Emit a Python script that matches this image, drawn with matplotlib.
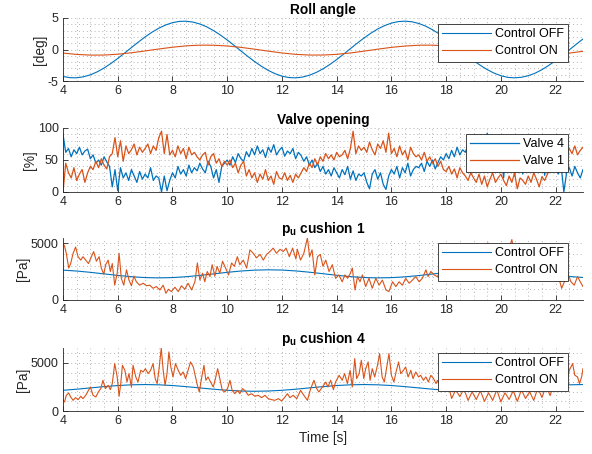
import numpy as np
import matplotlib.pyplot as plt

plt.rcParams['font.family'] = ['Liberation Sans', 'DejaVu Sans']
plt.rcParams['mathtext.fontset'] = 'custom'
plt.rcParams['mathtext.rm'] = 'Liberation Sans'
plt.rcParams['mathtext.bf'] = 'Liberation Sans:bold'
plt.rcParams['axes.unicode_minus'] = False

BLUE = '#0072BD'
ORANGE = '#D95319'
DARK = '#262626'

# --- Roll angle [deg] (0.25 s / 0.5 s samples from 4 s to 23 s) ---
roll_off = [-4.28, -4.47, -4.49, -4.33, -4.02, -3.55, -2.94, -2.22, -1.42, -0.57,
            0.31, 1.17, 1.99, 2.74, 3.38, 3.89, 4.26, 4.46, 4.49, 4.35,
            4.05, 3.60, 3.00, 2.30, 1.51, 0.66, -0.22, -1.09, -1.92, -2.66,
            -3.32, -3.84, -4.23, -4.45, -4.50, -4.38, -4.09, -3.65, -3.07, -2.38,
            -1.59, -0.75, 0.13, 1.00, 1.83, 2.59, 3.26, 3.79, 4.19, 4.43,
            4.50, 4.40, 4.13, 3.71, 3.14, 2.46, 1.68, 0.84, -0.04, -0.91,
            -1.75, -2.52, -3.19, -3.75, -4.16, -4.42, -4.50, -4.41, -4.16, -3.76,
            -3.20, -2.52, -1.76, -0.93, -0.05, 0.82, 1.67]
roll_on = [-0.57, -0.78, -0.89, -0.88, -0.75, -0.52, -0.23, 0.08, 0.36, 0.58,
           0.69, 0.68, 0.56, 0.34, 0.05, -0.26, -0.55, -0.77, -0.88, -0.88,
           -0.77, -0.55, -0.26, 0.05, 0.34, 0.55, 0.68, 0.69, 0.57, 0.36,
           0.08, -0.23, -0.52, -0.75, -0.88, -0.89, -0.78, -0.57, -0.29]

# --- Valve opening [%] (0.1 s samples from 4 s to 23 s) ---
valve4 = [90, 62, 68, 55, 66, 60, 70, 58, 64, 67,
          52, 58, 45, 50, 42, 55, 47, 40, 8, 35,
          2, 38, 22, 30, 18, 35, 25, 15, 32, 20,
          28, 22, 38, 18, 25, 22, 0, 25, 2, 18,
          30, 22, 40, 28, 35, 25, 42, 30, 38, 33,
          45, 36, 30, 48, 40, 22, 35, 15, 40, 45,
          50, 42, 55, 46, 60, 52, 48, 63, 55, 68,
          58, 72, 60, 66, 54, 70, 62, 74, 58, 65,
          70, 56, 64, 60, 68, 52, 62, 57, 48, 55,
          42, 50, 38, 45, 32, 40, 28, 35, 25, 38,
          30, 22, 35, 27, 40, 20, 33, 18, 28, 25,
          30, 15, 5, 28, 35, 20, 30, 12, 4, 25,
          35, 28, 40, 22, 38, 30, 45, 25, 35, 40,
          38, 45, 32, 48, 40, 50, 36, 46, 55, 50,
          60, 52, 65, 55, 70, 58, 66, 62, 74, 60,
          68, 75, 62, 80, 70, 92, 66, 72, 60, 78,
          65, 22, 70, 58, 75, 25, 62, 68, 28, 72,
          60, 70, 30, 66, 58, 72, 26, 62, 55, 40,
          35, 28, 42, 0, 30, 38, 25, 40, 30, 22,
          35]
valve1 = [0, 45, 30, 22, 38, 18, 28, 35, 15, 30,
          40, 35, 48, 38, 52, 42, 36, 55, 60, 85,
          55, 80, 48, 72, 60, 66, 75, 58, 70, 62,
          68, 75, 60, 72, 65, 85, 95, 60, 90, 58,
          65, 55, 72, 60, 68, 52, 70, 58, 62, 55,
          50, 58, 62, 42, 55, 60, 45, 52, 40, 48,
          42, 50, 38, 45, 30, 42, 48, 25, 35, 22,
          30, 15, 28, 20, 35, 18, 25, 12, 32, 22,
          20, 30, 18, 26, 15, 28, 22, 30, 38, 32,
          45, 38, 52, 42, 55, 48, 60, 52, 58, 50,
          62, 55, 58, 65, 52, 68, 95, 60, 72, 65,
          70, 62, 78, 66, 58, 75, 68, 80, 62, 92,
          60, 68, 55, 72, 58, 65, 50, 70, 60, 55,
          58, 50, 62, 48, 55, 45, 52, 40, 48, 35,
          32, 40, 28, 36, 22, 38, 30, 25, 18, 30,
          22, 15, 28, 12, 25, 8, 20, 30, 15, 22,
          28, 18, 10, 25, 15, 30, 5, 22, 18, 12,
          25, 15, 30, 20, 8, 24, 18, 28, 35, 45,
          50, 58, 45, 62, 55, 68, 60, 72, 58, 65,
          70]

# --- p_u cushion 1 [Pa] ---
p1_off = [2620, 2542, 2427, 2291, 2157, 2043, 1967, 1940, 1967, 2043,
          2157, 2291, 2427, 2542, 2620, 2650, 2626, 2552, 2440, 2306,
          2170, 2053, 1972, 1940, 1962, 2033, 2144, 2278, 2414, 2532,
          2615, 2649, 2631, 2562, 2452, 2319, 2183, 2063, 1978]
p1_on_t = [4.00, 4.06, 4.12, 4.21, 4.28, 4.37, 4.46, 4.55, 4.65, 4.73, 4.83, 4.93,
           5.04, 5.12, 5.22, 5.32, 5.40, 5.49, 5.56, 5.65, 5.73, 5.80, 5.89, 5.98,
           6.05, 6.13, 6.22, 6.32, 6.41, 6.50, 6.59, 6.68, 6.80, 6.93, 7.05, 7.17,
           7.29, 7.41, 7.54, 7.66, 7.76, 7.85, 7.96, 8.09, 8.21, 8.33, 8.45, 8.57,
           8.70, 8.82, 8.91, 9.00, 9.10, 9.18, 9.27, 9.37, 9.45, 9.55, 9.63, 9.73,
           9.83, 9.94, 10.05, 10.16, 10.26, 10.37, 10.46, 10.59, 10.71, 10.83, 10.95,
           11.07, 11.20, 11.32, 11.44, 11.56, 11.68, 11.80, 11.93, 12.05, 12.15,
           12.27, 12.39, 12.51, 12.56, 12.68, 12.80, 12.93, 13.01, 13.10, 13.20,
           13.30, 13.40, 13.50, 13.60, 13.72, 13.84, 13.96, 14.08, 14.20, 14.30,
           14.40, 14.50, 14.57, 14.67, 14.76, 14.85, 14.94, 15.06, 15.18, 15.30,
           15.43, 15.55, 15.67, 15.80, 15.91, 16.04, 16.16, 16.28, 16.40, 16.52,
           16.65, 16.77, 16.89, 17.01, 17.13, 17.26, 17.34, 17.44, 17.56, 17.68,
           17.80, 17.95, 18.10, 18.25, 18.40, 18.55, 18.70, 18.85, 19.00, 19.15,
           19.30, 19.45, 19.53, 19.65, 19.80, 19.95, 20.10, 20.25, 20.40, 20.50,
           20.65, 20.80, 20.95, 21.10, 21.25, 21.40, 21.55, 21.70, 21.85, 22.00,
           22.12, 22.22, 22.32, 22.45, 22.56, 22.68, 22.80, 22.90, 23.00]
p1_on = [5000, 4700, 4100, 2800, 3200, 4100, 4650, 3800, 3500, 3800, 3500, 3200,
         3800, 4250, 3400, 3800, 2800, 2260, 3100, 3500, 2500, 3200, 1300, 2350,
         4100, 1900, 1300, 2650, 1750, 1250, 2100, 1600, 1300, 1470, 1250, 1300,
         1030, 1180, 880, 1300, 590, 940, 740, 1120, 740, 1250, 940, 1470,
         880, 1600, 3250, 1750, 2350, 1600, 2500, 2050, 3100, 2100, 2950, 2350,
         3400, 2800, 2200, 3250, 2950, 3800, 3100, 3500, 2800, 4400, 4100,
         3700, 4000, 3500, 4000, 4250, 4550, 4100, 4450, 4250, 4550,
         3800, 4550, 3600, 4450, 3500, 4100, 5440, 3800, 4400, 2200,
         3800, 4000, 2950, 3500, 2500, 3100, 1900, 2200, 1600, 2200,
         1900, 2350, 2800, 880, 2050, 1600, 2200, 1180, 1900, 1030,
         1900, 1300, 1750, 880, 740, 1600, 1180, 1600, 1300, 1900,
         1470, 1750, 2050, 1600, 1900, 2650, 2050, 2500, 2200, 2050,
         2600, 2200, 2900, 2400, 3100, 2600, 3400, 2800, 3600, 3000,
         3800, 4900, 5000, 3700, 3200, 4000, 3400, 4200, 5300, 3900,
         3500, 4100, 3300, 3700, 3000, 3400, 2700, 3100, 2400, 2800,
         1900, 1030, 1600, 2300, 1600, 1300, 2050, 1600, 1180]

# --- p_u cushion 4 [Pa] ---
p4_off = [2153, 2266, 2400, 2534, 2647, 2723, 2750, 2723, 2647, 2534,
          2400, 2266, 2153, 2077, 2050, 2077, 2153, 2266, 2400, 2534,
          2647, 2723, 2750, 2723, 2647, 2534, 2400, 2266, 2153, 2077,
          2050, 2077, 2153, 2266, 2400, 2534, 2647, 2723, 2750]
p4_on_t = [4.00, 4.06, 4.12, 4.21, 4.28, 4.37, 4.46, 4.55, 4.65, 4.73, 4.83, 4.93,
           5.00, 5.10, 5.20, 5.29, 5.38, 5.46, 5.55, 5.65, 5.73, 5.80, 5.89, 5.98,
           6.05, 6.11, 6.17, 6.26, 6.34, 6.41, 6.50, 6.56, 6.66, 6.74, 6.84, 6.93,
           7.01, 7.11, 7.20, 7.29, 7.37, 7.44, 7.51, 7.59, 7.66, 7.73, 7.80, 7.87,
           7.94, 8.02, 8.11, 8.21, 8.30, 8.39, 8.48, 8.57, 8.66, 8.76, 8.84, 8.91,
           8.98, 9.06, 9.15, 9.22, 9.30, 9.39, 9.49, 9.57, 9.65, 9.73, 9.82, 9.91,
           10.01, 10.10, 10.18, 10.28, 10.38, 10.46, 10.56, 10.66, 10.77, 10.89,
           11.01, 11.13, 11.26, 11.38, 11.50, 11.62, 11.74, 11.87, 11.99, 12.11,
           12.20, 12.29, 12.41, 12.54, 12.68, 12.80, 12.93, 13.05, 13.17, 13.27,
           13.35, 13.48, 13.60, 13.68, 13.78, 13.88, 13.96, 14.09, 14.20, 14.29,
           14.39, 14.49, 14.57, 14.66, 14.73, 14.82, 14.90, 14.99, 15.06, 15.15,
           15.22, 15.30, 15.39, 15.49, 15.57, 15.66, 15.74, 15.83, 15.91, 16.00,
           16.09, 16.17, 16.26, 16.34, 16.44, 16.52, 16.61, 16.71, 16.79, 16.89,
           16.99, 17.07, 17.17, 17.26, 17.35, 17.44, 17.54, 17.63, 17.68, 17.80,
           17.95, 18.10, 18.20, 18.35, 18.50, 18.65, 18.80, 18.95, 19.10, 19.25,
           19.40, 19.55, 19.70, 19.85, 20.00, 20.15, 20.30, 20.45, 20.60, 20.75,
           20.90, 21.05, 21.20, 21.35, 21.50, 21.65, 21.80, 21.95, 22.10, 22.25,
           22.40, 22.50, 22.62, 22.70, 22.80, 22.87, 22.95, 23.00]
p4_on = [1110, 940, 1630, 1870, 1460, 1110, 1390, 1180, 1530, 1280, 1630, 2150,
         2500, 1630, 1460, 1980, 2330, 3190, 2330, 2670, 2220, 2850, 4930, 3540,
         1530, 2850, 4750, 4230, 3020, 3890, 2500, 4750, 3540, 3020, 4230, 4060,
         4400, 3890, 4230, 4930, 3370, 2850, 4400, 6550, 4230, 2670, 3890, 6140,
         4580, 3540, 4930, 4230, 3710, 4060, 3370, 4230, 5100, 4580, 3540, 2670,
         1980, 3370, 4750, 3190, 3540, 3020, 2500, 3370, 4400, 3370, 2150, 1980,
         2330, 3190, 2150, 1800, 2150, 1800, 2330, 2080, 1630, 1800,
         1530, 1630, 1390, 1630, 1280, 1180, 1110, 1280, 1040, 1460,
         1800, 1390, 1630, 1280, 2150, 1630, 1110, 2330, 3190, 2330,
         1980, 2500, 3020, 2500, 3190, 2220, 3020, 3710, 3190, 3890,
         2850, 4230, 2500, 5450, 3370, 3890, 5270, 3370, 4400, 5100,
         3190, 4400, 3540, 4750, 5970, 3540, 3020, 4580, 5970, 3710,
         3020, 4060, 5100, 3890, 4230, 4580, 3540, 4230, 3370, 4060,
         3540, 3710, 3190, 3540, 3020, 3710, 3370, 2850, 3190, 2600,
         2100, 2500, 1300, 2200, 1500, 2300, 1100, 2000, 1200, 2100,
         1000, 1900, 1100, 2200, 950, 1900, 1200, 2100, 1000, 2200,
         1300, 2000, 1100, 2400, 1400, 2600, 1600, 3000, 2400, 3500,
         3000, 4240, 4930, 3720, 3540, 2850, 3540, 4410]

t_roll_off = np.linspace(4, 23, len(roll_off))
t_slow = np.linspace(4, 23, len(roll_on))
t_valve = np.linspace(4, 23, len(valve4))

fig = plt.figure(figsize=(5.92, 4.54), dpi=100)
L, W = 63 / 592, 520 / 592
boxes = [(18, 81), (128, 192), (238, 300), (348, 411)]
axes = [fig.add_axes([L, 1 - b / 454, W, (b - t) / 454]) for t, b in boxes]


def style(ax, ylim, yticks, ystep, ylabel, label_x, title, legend_y, labels):
    ax.set_xlim(4, 23)
    ax.set_ylim(*ylim)
    ax.set_xticks(range(4, 23, 2))
    ax.set_xticks(np.arange(4, 23.01, 0.5), minor=True)
    ax.set_yticks(yticks)
    ax.set_yticks(np.arange(ylim[0], ylim[1] + 1e-6, ystep), minor=True)
    ax.grid(True, which='both', linestyle=(0, (1, 3)), linewidth=0.7, color='#b4b4b4')
    ax.set_axisbelow(True)
    ax.tick_params(which='major', direction='in', length=3.5, width=0.6,
                   colors=DARK, labelsize=9, pad=3)
    ax.tick_params(which='minor', length=0)
    for s in ['top', 'right']:
        ax.spines[s].set_visible(False)
    for s in ['left', 'bottom']:
        ax.spines[s].set_color(DARK)
        ax.spines[s].set_linewidth(0.6)
    ax.set_ylabel(ylabel, fontsize=9.9, color=DARK)
    ax.yaxis.set_label_coords(label_x, 0.5)
    ax.set_title(title, fontsize=9.9, fontweight='bold', pad=3)
    leg = ax.legend(labels, loc='upper right', bbox_to_anchor=(0.971, legend_y),
                    fontsize=9, handlelength=3.85, handletextpad=0.32,
                    labelspacing=0.4, borderpad=0.35, borderaxespad=0,
                    fancybox=False, framealpha=1, edgecolor=DARK)
    leg.get_frame().set_linewidth(0.6)


ax1, ax2, ax3, ax4 = axes
ax1.plot(t_roll_off, roll_off, color=BLUE, lw=0.8)
ax1.plot(t_slow, roll_on, color=ORANGE, lw=0.8)
style(ax1, (-5, 5), [-5, 0, 5], 1, '[deg]', -0.031, 'Roll angle', 0.905,
      ['Control OFF', 'Control ON'])

ax2.plot(t_valve, valve4, color=BLUE, lw=0.9)
ax2.plot(t_valve, valve1, color=ORANGE, lw=0.9)
style(ax2, (0, 100), [0, 50, 100], 10, '[%]', -0.05, 'Valve opening', 0.906,
      ['Valve 4', 'Valve 1'])

ax3.plot(t_slow, p1_off, color=BLUE, lw=0.8)
ax3.plot(p1_on_t, p1_on, color=ORANGE, lw=0.8)
style(ax3, (0, max(p1_on)), [0, 5000], 1000, '[Pa]', -0.063,
      r'$\mathbf{p_u}$ cushion 1', 0.919, ['Control OFF', 'Control ON'])

ax4.plot(t_slow, p4_off, color=BLUE, lw=0.8)
ax4.plot(p4_on_t, p4_on, color=ORANGE, lw=0.8)
style(ax4, (0, max(p4_on)), [0, 5000], 1000, '[Pa]', -0.063,
      r'$\mathbf{p_u}$ cushion 4', 0.92, ['Control OFF', 'Control ON'])
ax4.set_xlabel('Time [s]', fontsize=9.9, color=DARK, labelpad=3)

fig.savefig('out.png', dpi=100, facecolor='white')
